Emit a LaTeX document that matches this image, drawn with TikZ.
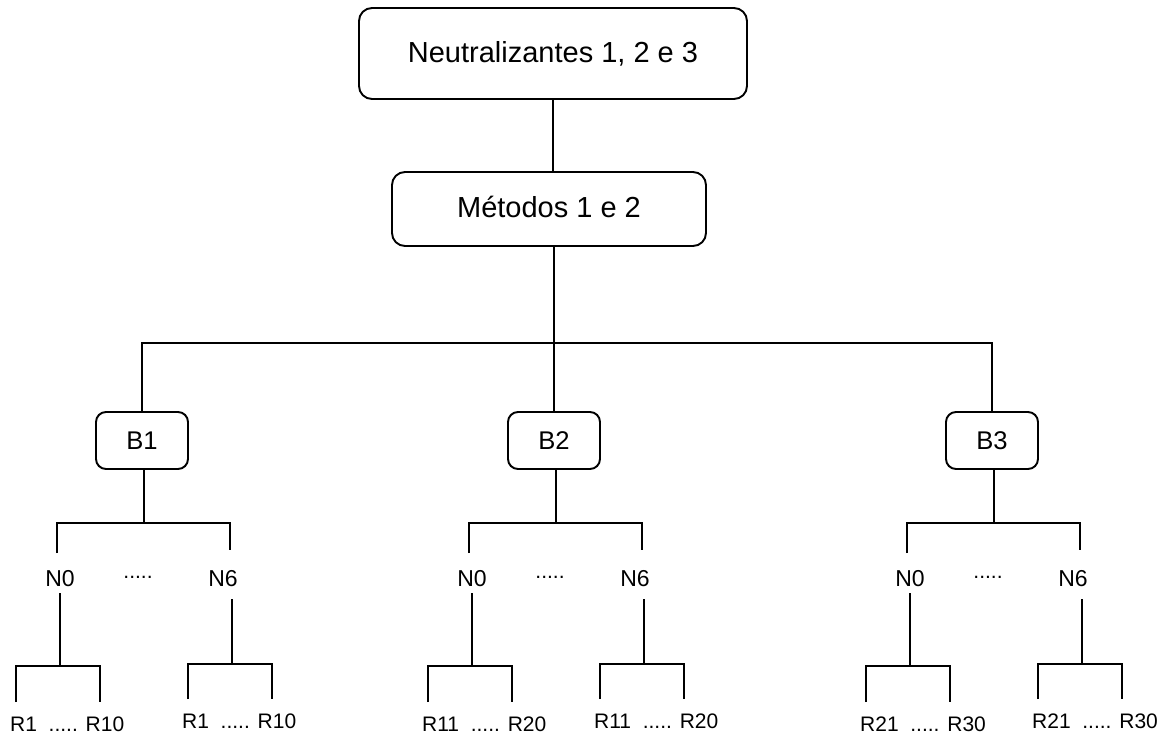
\documentclass[tikz,border=0pt]{standalone}
\usepackage{fontspec}
\setmainfont{Liberation Sans}
\begin{document}
\begin{tikzpicture}[x=1pt,y=-1pt,
  box/.style={draw, line width=1.9pt, rounded corners=13pt, inner sep=0pt, align=center},
  bbox/.style={draw, line width=1.9pt, rounded corners=10pt, inner sep=0pt, minimum width=92pt, minimum height=57pt, font=\fontsize{25.6}{30}\selectfont},
  conn/.style={line width=1.3pt},
  nlab/.style={inner sep=0pt, font=\fontsize{23}{27}\selectfont},
  rlab/.style={inner sep=0pt, anchor=west, font=\fontsize{21}{25}\selectfont},
  dots/.style={inner sep=0pt, anchor=base, font=\fontsize{21}{25}\selectfont}]
\useasboundingbox (0,0) rectangle (1164,736);

\node[box, minimum width=388pt, minimum height=91pt, font=\fontsize{29}{34}\selectfont] (top) at (553,53.5) {\raisebox{-3pt}{Neutralizantes 1, 2 e 3}};
\node[box, minimum width=314pt, minimum height=74pt, font=\fontsize{29}{34}\selectfont] (meth) at (549,209) {\raisebox{4pt}{Métodos 1 e 2}};

\node[bbox] (b1) at (142,440.5) {B1};
\node[bbox] (b2) at (554,440.5) {B2};
\node[bbox] (b3) at (992,440.5) {B3};

\coordinate (bar) at (554,343);
\draw[conn] (top.south) -- (top.south |- meth.north);
\draw[conn] (meth.south -| bar) -- (bar);
\draw[conn] (b1.north) -- (b1.north |- bar) -- (b3.north |- bar) -- (b3.north);
\draw[conn] (b2.north) -- (b2.north |- bar);

\foreach \g/\dx/\ra/\rb in {1/0/1/10, 2/412/11/20, 3/850/21/30}{
  \begin{scope}[xshift=\dx pt]
    \coordinate (j\g) at (144,523);
    \coordinate (la\g) at (57,553);
    \coordinate (ra\g) at (230,550);
    \node[nlab] (n0\g) at (60,579) {N0};
    \node[nlab] (n6\g) at (223,579) {N6};
    \node[dots] (d\g) at (138,578) {.....};
    \coordinate (s0t\g) at (60,593);
    \coordinate (s0b\g) at (60,666);
    \coordinate (l0a\g) at (16,702);
    \coordinate (l0b\g) at (100,702);
    \coordinate (s6t\g) at (232,599);
    \coordinate (s6b\g) at (232,664);
    \coordinate (l6a\g) at (188,699);
    \coordinate (l6b\g) at (272,699);
    \node[rlab] (r0\g) at (10,724.5) {R\ra\ \ ..... R\rb};
    \node[rlab] (r6\g) at (182,721.5) {R\ra\ \ ..... R\rb};
  \end{scope}
  \draw[conn] (b\g.south -| j\g) -- (j\g);
  \draw[conn] (la\g) -- (la\g |- j\g) -- (ra\g |- j\g) -- (ra\g);
  \draw[conn] (s0t\g) -- (s0b\g);
  \draw[conn] (l0a\g) -- (l0a\g |- s0b\g) -- (l0b\g |- s0b\g) -- (l0b\g);
  \draw[conn] (s6t\g) -- (s6b\g);
  \draw[conn] (l6a\g) -- (l6a\g |- s6b\g) -- (l6b\g |- s6b\g) -- (l6b\g);
}
\end{tikzpicture}
\end{document}
